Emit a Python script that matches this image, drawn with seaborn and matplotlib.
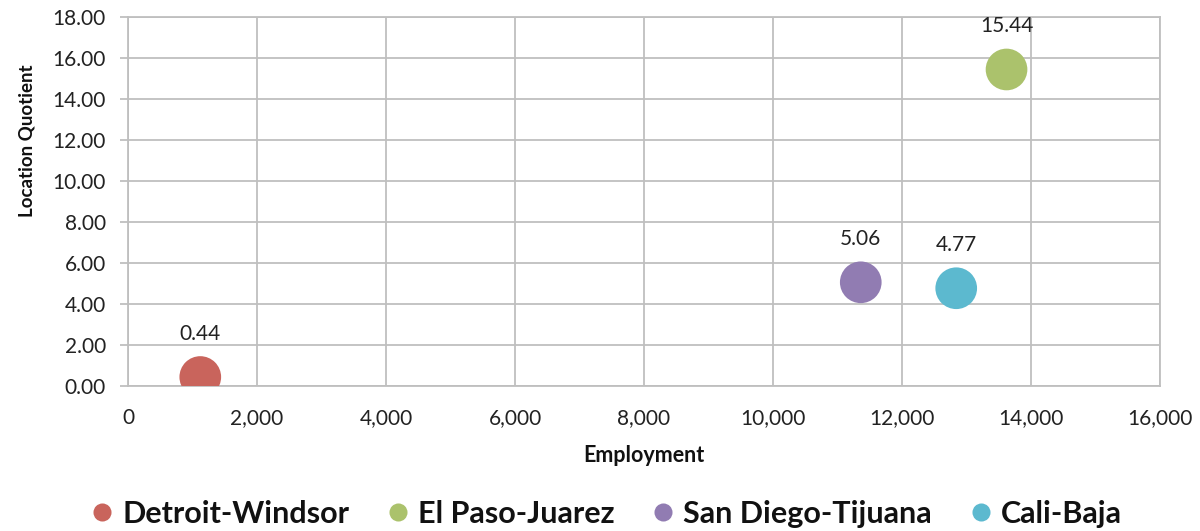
import matplotlib
matplotlib.use("Agg")
import matplotlib.pyplot as plt
import seaborn as sns
import pandas as pd
from matplotlib.ticker import FuncFormatter, MultipleLocator

regions = ["Detroit-Windsor", "El Paso-Juarez", "San Diego-Tijuana", "Cali-Baja"]
employment = [1120, 13620, 11360, 12840]
location_quotient = [0.44, 15.44, 5.06, 4.77]
colors = ["#C9645C", "#ABC26C", "#917CB2", "#5CB9CF"]

df = pd.DataFrame({"Region": regions, "Employment": employment,
                   "Location Quotient": location_quotient})

sns.set_theme(style="white")
plt.rcParams["font.family"] = ["Lato", "DejaVu Sans"]

fig = plt.figure(figsize=(12, 5.31), dpi=100)
ax = fig.add_axes([0.1067, 0.273, 0.86, 0.695])

sns.scatterplot(data=df, x="Employment", y="Location Quotient", hue="Region",
                palette=colors, s=900, edgecolor="none", legend=False,
                ax=ax, zorder=3)

for x, y in zip(employment, location_quotient):
    ax.annotate(f"{y:.2f}", (x, y), xytext=(0, 31), textcoords="offset points",
                ha="center", va="center", fontsize=15, color="#222222")

ax.set_xlim(0, 16000)
ax.set_ylim(0, 18)
ax.xaxis.set_major_locator(MultipleLocator(2000))
ax.yaxis.set_major_locator(MultipleLocator(2))
ax.xaxis.set_major_formatter(FuncFormatter(lambda v, p: f"{int(v):,}"))
ax.yaxis.set_major_formatter(FuncFormatter(lambda v, p: f"{v:.2f}"))

ax.grid(True, color="#BFBFBF", linewidth=1.3)
ax.set_axisbelow(True)
for sp in ax.spines.values():
    sp.set_color("#BFBFBF")
    sp.set_linewidth(1.3)

ax.tick_params(axis="y", which="major", direction="out", length=6, width=1.3,
               color="#BFBFBF", labelsize=15, labelcolor="#222222", pad=10, left=True)
ax.tick_params(axis="x", which="major", length=0, labelsize=15,
               labelcolor="#222222", pad=16)

ax.set_xlabel("Employment", fontsize=15.5, fontweight="bold", color="#111111", labelpad=12)
ax.set_ylabel("Location Quotient", fontsize=13.5, fontweight="bold", color="#111111")
ax.yaxis.set_label_coords(-0.09, 0.664)

handles = [plt.Line2D([0], [0], marker="o", linestyle="none", markersize=13,
                      markerfacecolor=c, markeredgecolor="none") for c in colors]
fig.legend(handles, regions, loc="center", bbox_to_anchor=(0.506, 0.032), ncol=4,
           frameon=False, prop={"size": 22, "weight": "bold"}, labelcolor="#111111",
           handlelength=0.6, handletextpad=0.35, columnspacing=1.3)

fig.savefig("out.png", dpi=100)
